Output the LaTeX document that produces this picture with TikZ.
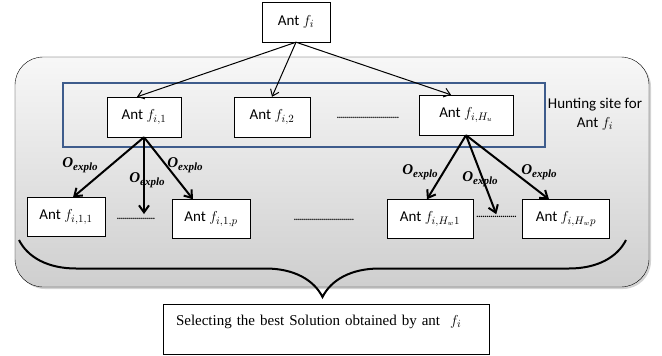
\documentclass[tikz,border=0pt]{standalone}
\usepackage{fontspec}
\setmainfont{Liberation Serif}
\newfontfamily\antfont{Carlito}
\usetikzlibrary{arrows.meta,decorations.pathreplacing,shadows}
\definecolor{siteblue}{RGB}{62,92,140}
\newcommand{\oexplo}{\textbf{\textit{O}}\raisebox{-3pt}{\fontsize{11}{11}\selectfont\textbf{\textit{explo}}}}
\newcommand{\dotrow}[1]{\hbox to #1pt{\leaders\hbox to 2pt{\hss.\hss}\hfill}}
\begin{document}
\begin{tikzpicture}[x = 1pt, y = -1pt,
                    anode/.style = {shape = rectangle,
                                    draw,
                                    fill = white,
                                    inner sep = 0pt,
                                    minimum height = 40pt,
                                    font = \antfont\fontsize{15}{15}\selectfont},
                    larr/.style = {-{Straight Barb[length=6pt,width=9pt]}, line width = 1pt},
                    harr/.style = {-{Straight Barb[length=7pt,width=10pt]}, line width = 2pt},
                    olab/.style = {inner sep = 0pt, font = \fontsize{15}{15}\selectfont},
                    dnode/.style = {inner sep = 0pt, font = \bfseries\fontsize{9}{9}\selectfont}]
	\useasboundingbox (0,0) rectangle (662,356);
	% area and hunting site
	\draw[rounded corners = 28pt, top color = gray!6, bottom color = gray!38,
	      drop shadow = {opacity = 0.35, shadow xshift = 2pt, shadow yshift = -2pt}]
	      (15,57) rectangle (649,287);
	\draw[siteblue, line width = 1.8pt] (63,83) rectangle (545,147);
	\node[font = \antfont\fontsize{15}{19}\selectfont, align = center] (site) at (595,114) {Hunting site for\\Ant $f_i$};
	% ants
	\node[anode, minimum width = 68pt] (f) at (296,22) {Ant $f_i$};
	\node[anode, minimum width = 74pt] (f1) at (144,117) {Ant $f_{i,1}$};
	\node[anode, minimum width = 76pt] (f2) at (272,117) {Ant $f_{i,2}$};
	\node[anode, minimum width = 94pt] (fh) at (466,115) {Ant $f_{i,H_u}$};
	\node[anode, minimum width = 78pt, minimum height = 39pt] (f11) at (66,217) {Ant $f_{i,1,1}$};
	\node[anode, minimum width = 78pt, minimum height = 39pt] (f1p) at (211,219) {Ant $f_{i,1,p}$};
	\node[anode, minimum width = 86pt, minimum height = 39pt] (fh1) at (430,219) {Ant $f_{i,H_w1}$};
	\node[anode, minimum width = 87pt, minimum height = 39pt] (fhp) at (566,219) {Ant $f_{i,H_wp}$};
	\node[dnode] (d0) at (368,118) {\dotrow{62}};
	\node[dnode] (d1) at (136,219) {\dotrow{38}};
	\node[dnode] (d2) at (324,220) {\dotrow{60}};
	\node[dnode] (d3) at (497,217) {\dotrow{41}};
	% arrows
	\draw[larr] (f.south) -- ([xshift=-7pt]f1.north);
	\draw[larr] (f.south) -- (f2.north);
	\draw[larr] (f.south) -- ([xshift=-15pt]fh.north);
	\draw[harr] (f1.south) -- ([xshift=7pt]f11.north);
	\draw[harr, shorten > = 4pt] (f1.south) -- (f1.south |- d1.north);
	\draw[harr] (f1.south) -- ([xshift=-18pt]f1p.north);
	\draw[harr] (fh.south) -- ([xshift=-3pt]fh1.north);
	\draw[harr, shorten > = 2pt] (fh.south) -- (d3.north);
	\draw[harr] (fh.south) -- ([xshift=-17pt]fhp.north);
	\node[olab] (o1) at (80,165) {\oexplo};
	\node[olab] (o2) at (147,180) {\oexplo};
	\node[olab] (o3) at (185,165) {\oexplo};
	\node[olab] (o4) at (420,172) {\oexplo};
	\node[olab] (o5) at (480,179) {\oexplo};
	\node[olab] (o6) at (539,172) {\oexplo};
	% brace and selection
	\draw[line width = 2pt, decorate, decoration = {brace, mirror, amplitude = 57pt}] (19,240) -- (626,240);
	\node[draw, fill = white, minimum width = 326pt, minimum height = 50pt, text width = 300pt,
	      align = left, inner sep = 0pt, font = \fontsize{15}{17}\selectfont] (sel) at (326,329)
	      {Selecting the best Solution obtained by ant\ \ $f_i$\\ \mbox{}};
\end{tikzpicture}
\end{document}
